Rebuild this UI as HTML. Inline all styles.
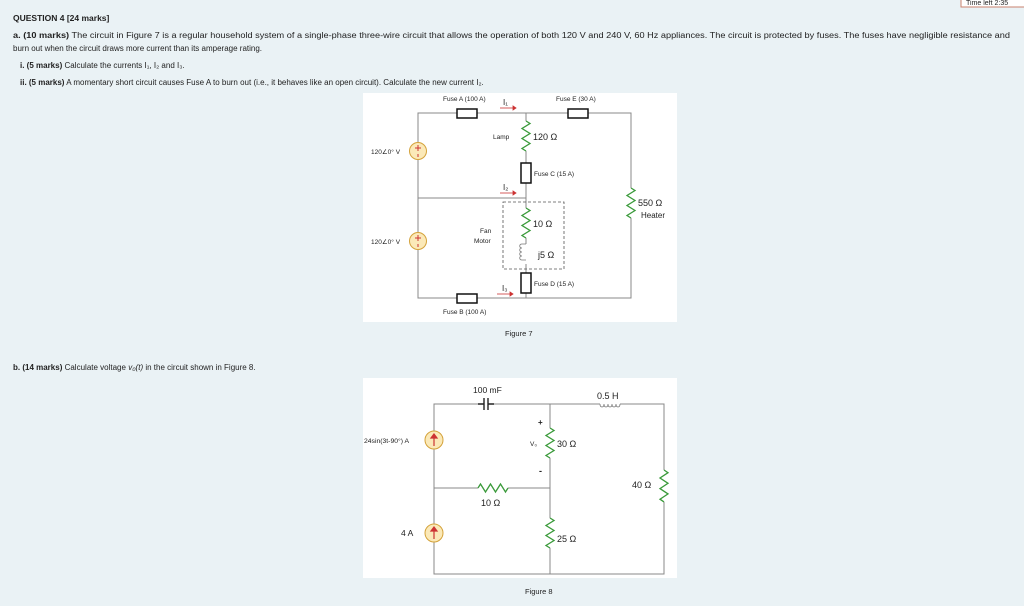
<!DOCTYPE html>
<html><head><meta charset="utf-8"><style>
html,body{margin:0;padding:0;background:#eaf2f5;}
svg{display:block;}
text{font-family:"Liberation Sans",sans-serif;fill:#222;}
</style></head><body>
<svg width="1024" height="606" viewBox="0 0 1024 606" xmlns="http://www.w3.org/2000/svg">
<rect width="1024" height="606" fill="#eaf2f5"/>
<rect x="961" y="-2" width="70" height="9" fill="#fff" stroke="#c9826e" stroke-width="1"/>
<text x="966" y="5" font-size="7">Time left 2:35</text>

<text x="13" y="21" font-size="8.5" font-weight="bold" fill="#111">QUESTION 4 [24 marks]</text>
<text x="13" y="38" font-size="8" textLength="997" lengthAdjust="spacingAndGlyphs"><tspan font-weight="bold">a.  (10 marks)</tspan> The circuit in Figure 7 is a regular household system of a single-phase three-wire circuit that allows the operation of both 120 V and 240 V, 60 Hz appliances. The circuit is protected by fuses. The fuses have negligible resistance and</text>
<text x="13" y="51" font-size="8">burn out when the circuit draws more current than its amperage rating.</text>
<text x="20" y="68" font-size="8"><tspan font-weight="bold">i.  (5 marks)</tspan> Calculate the currents I₁, I₂ and I₃.</text>
<text x="20" y="85" font-size="8"><tspan font-weight="bold">ii. (5 marks)</tspan> A momentary short circuit causes Fuse A to burn out (i.e., it behaves like an open circuit). Calculate the new current I₂.</text>
<text x="13" y="370" font-size="8"><tspan font-weight="bold">b.  (14 marks)</tspan> Calculate voltage <tspan font-style="italic">v₀(t)</tspan>  in the circuit shown in Figure 8.</text>

<!-- Figure 7 -->
<rect x="363" y="93" width="314" height="229" fill="#fff"/>
<g stroke="#888" stroke-width="1" fill="none">
<path d="M418 113 H631 V298 H418 Z"/>
<path d="M418 198 H526"/>
<path d="M526 113 V298"/>
</g>
<g fill="#fff" stroke="#111" stroke-width="1.5">
<rect x="457" y="109" width="20" height="9"/>
<rect x="568" y="109" width="20" height="9"/>
<rect x="457" y="294" width="20" height="9"/>
<rect x="521" y="163" width="10" height="20"/>
<rect x="521" y="273" width="10" height="20"/>
</g>
<g fill="#fff" stroke="none"><rect x="522" y="121" width="8" height="30"/><rect x="522" y="208" width="8" height="30"/><rect x="627" y="188" width="8" height="30"/><rect x="522" y="244" width="8" height="20"/></g>
<g stroke="#3a9a3a" stroke-width="1.3" fill="none">
<path d="M526 121 l4 2.5 l-8 5 l8 5 l-8 5 l8 5 l-8 5 l4 2.5"/>
<path d="M526 208 l4 2.5 l-8 5 l8 5 l-8 5 l8 5 l-8 5 l4 2.5"/>
<path d="M631 188 l4 2.5 l-8 5 l8 5 l-8 5 l8 5 l-8 5 l4 2.5"/>
</g>
<path d="M526 244 h-4 c-3 0 -3 4 0 4 c-3 0 -3 4 0 4 c-3 0 -3 4 0 4 c-3 0 -3 4 0 4 h4" stroke="#777" fill="none" stroke-width="0.8"/>
<rect x="503" y="202" width="61" height="67" fill="none" stroke="#555" stroke-dasharray="3,2" stroke-width="0.8"/>
<g fill="#fbe9b8" stroke="#d4a23a" stroke-width="1">
<circle cx="418" cy="151" r="8.5"/><circle cx="418" cy="241" r="8.5"/>
</g>
<g stroke="#c33" stroke-width="1" fill="none"><path d="M415 148 h6 M418 145 v6 M418 154 v3"/><path d="M415 238 h6 M418 235 v6 M418 244 v3"/></g>
<g stroke="#c33" stroke-width="0.8" fill="#c33">
<path d="M500 108 h13"/><path d="M513 106 l3 2 l-3 2z"/>
<path d="M500 193 h13"/><path d="M513 191 l3 2 l-3 2z"/>
<path d="M497 294 h13"/><path d="M510 292 l3 2 l-3 2z"/>
</g>
<g font-size="6.5" fill="#333">
<text x="443" y="101">Fuse A (100 A)</text>
<text x="556" y="101">Fuse E (30 A)</text>
<text x="443" y="314">Fuse B (100 A)</text>
<text x="534" y="176">Fuse C (15 A)</text>
<text x="534" y="286">Fuse D (15 A)</text>
<text x="493" y="139">Lamp</text>
<text x="480" y="233">Fan</text>
<text x="474" y="243">Motor</text>
<text x="371" y="154">120∠0° V</text>
<text x="371" y="244">120∠0° V</text>
<text x="505" y="336" font-size="7.5">Figure 7</text>
</g>
<g font-size="8" fill="#222">
<text x="503" y="105">I₁</text>
<text x="503" y="190">I₂</text>
<text x="502" y="291">I₃</text>
<text x="533" y="140" font-size="9">120 Ω</text>
<text x="533" y="227" font-size="9">10 Ω</text>
<text x="538" y="258" font-size="9">j5 Ω</text>
<text x="638" y="206" font-size="9">550 Ω</text>
<text x="641" y="218" font-size="8">Heater</text>
</g>

<!-- Figure 8 -->
<rect x="363" y="378" width="314" height="200" fill="#fff"/>
<g stroke="#888" stroke-width="1" fill="none">
<path d="M434 404 H664 V574 H434 Z"/>
<path d="M434 488 H550"/>
<path d="M550 404 V574"/>
</g>
<g fill="#fff"><rect x="479" y="400" width="14" height="8"/><rect x="600" y="400" width="20" height="8"/>
<rect x="546" y="428" width="8" height="30"/><rect x="546" y="518" width="8" height="30"/><rect x="660" y="470" width="8" height="32"/><rect x="478" y="484" width="30" height="8"/></g>
<path d="M484 398 v12 M488 398 v12 M478 404 h6 M488 404 h6" stroke="#222" stroke-width="1.4" fill="none"/>
<path d="M600 404 c0 4 4 4 4 0 c0 4 4 4 4 0 c0 4 4 4 4 0 c0 4 4 4 4 0 c0 4 4 4 4 0" stroke="#777" stroke-width="0.8" fill="none"/>
<g stroke="#3a9a3a" stroke-width="1.3" fill="none">
<path d="M550 428 l4 2.5 l-8 5 l8 5 l-8 5 l8 5 l-8 5 l4 2.5"/>
<path d="M550 518 l4 2.5 l-8 5 l8 5 l-8 5 l8 5 l-8 5 l4 2.5"/>
<path d="M664 470 l4 2.7 l-8 5.3 l8 5.3 l-8 5.3 l8 5.3 l-8 5.3 l4 2.7"/>
<path d="M478 488 l2.5 -4 l5 8 l5 -8 l5 8 l5 -8 l5 8 l2.5 -4"/>
</g>
<g fill="#fbe9b8" stroke="#d4a23a" stroke-width="1">
<circle cx="434" cy="440" r="9"/><circle cx="434" cy="533" r="9"/>
</g>
<g stroke="#c33" fill="#c33" stroke-width="1.2"><path d="M434 446 v-8"/><path d="M431 438 l3 -4 l3 4z"/><path d="M434 539 v-8"/><path d="M431 531 l3 -4 l3 4z"/></g>
<text x="538" y="425" font-size="8" fill="#c33" font-weight="bold">+</text>
<text x="539" y="474" font-size="9" fill="#c33" font-weight="bold">-</text>
<g fill="#222">
<text x="473" y="393" font-size="8.5">100 mF</text>
<text x="597" y="399" font-size="9">0.5 H</text>
<text x="364" y="443" font-size="6.8">24sin(3t-90°) A</text>
<text x="401" y="536" font-size="8.5">4 A</text>
<text x="530" y="446" font-size="6.5">V₀</text>
<text x="557" y="447" font-size="9">30 Ω</text>
<text x="557" y="542" font-size="9">25 Ω</text>
<text x="632" y="488" font-size="9">40 Ω</text>
<text x="481" y="506" font-size="9">10 Ω</text>
<text x="525" y="594" font-size="7.5" fill="#333">Figure 8</text>
</g>
</svg>
</body></html>
